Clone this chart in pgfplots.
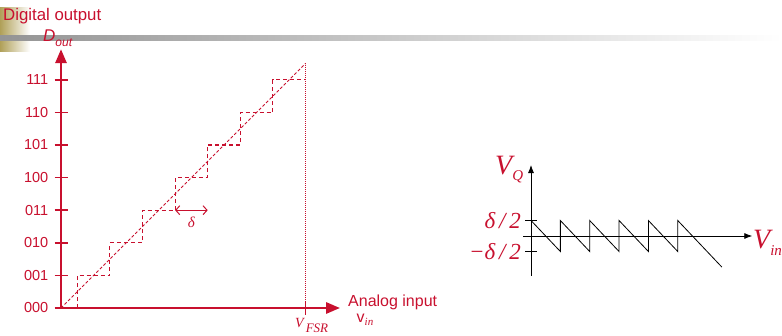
\documentclass[border=0pt]{standalone}
\usepackage{pgfplots}
\pgfplotsset{compat=1.18}
\usepackage{fontspec}
\setmainfont{Liberation Serif}
\setsansfont{Liberation Sans}
\newfontfamily\arial{Liberation Sans}
\newfontfamily\tnr{Liberation Serif}
\usetikzlibrary{arrows.meta}
\definecolor{crim}{RGB}{200,16,46}
\definecolor{olive}{RGB}{176,160,88}

\begin{document}
\begin{tikzpicture}[x=1pt,y=1pt]
\useasboundingbox (0,0) rectangle (782,335);

% slide header decoration
\shade[left color=olive, right color=white] (0,283) rectangle (30,327);
\shade[left color=black!42, right color=white] (0,294) rectangle (782,299);
\node[anchor=base west, inner sep=0pt, text=crim, font=\arial\fontsize{16.8}{18}\selectfont] at (3,314) {Digital output};
\node[anchor=base west, inner sep=0pt, text=crim] at (43,293)
  {{\arial\itshape\fontsize{17}{19}\selectfont D}\raisebox{-5pt}{\arial\itshape\fontsize{12}{13}\selectfont out}};

% ---------- transfer characteristic of a 3-bit quantizer ----------
\begin{axis}[
  at={(61pt,27pt)}, anchor=origin,
  x=32.6pt, y=32.6pt,
  xmin=0, xmax=8.56, ymin=0, ymax=7.94,
  axis lines=left,
  every outer x axis line/.append style={draw=crim, line width=2.8pt, -{Triangle[length=14pt,width=11pt]}},
  every outer y axis line/.append style={draw=crim, line width=2.8pt, -{Triangle[length=14pt,width=11pt]}},
  clip=false,
  xtick={7.5}, xticklabels={},
  ytick={0,1,2,3,4,5,6,7},
  yticklabels={\mbox{000},\mbox{001},\mbox{010},\mbox{011},\mbox{100},\mbox{101},\mbox{110},\mbox{111}},
  tick style={crim, line width=1.5pt},
  major tick length=13pt,
  tick align=center,
  yticklabel style={text=crim, font=\arial\fontsize{14.5}{16}\selectfont, anchor=east, inner sep=0pt, xshift=-6pt},
]
% quantizer staircase
\addplot[crim, line width=1.1pt, dash pattern=on 4pt off 3pt] coordinates {
  (0.5,0) (0.5,1) (1.5,1) (1.5,2) (2.5,2) (2.5,3) (3.5,3) (3.5,4)
  (4.5,4) (4.5,5) (5.5,5) (5.5,6) (6.5,6) (6.5,7) (7.5,7)};
% ideal straight line
\addplot[crim, line width=0.9pt, dash pattern=on 3pt off 2pt] coordinates {(0,0) (7.5,7.5)};
% full-scale marker
\addplot[crim, line width=0.6pt, dash pattern=on 1pt off 1pt] coordinates {(7.5,0) (7.5,7.5)};
% step width
\addplot[crim, line width=1pt, {Straight Barb[length=4pt,width=9pt]}-{Straight Barb[length=4pt,width=9pt]}] coordinates {(3.5,3) (4.5,3)};
\node[text=crim, font=\tnr\itshape\fontsize{15}{16}\selectfont] at (axis cs:4,2.62) {δ};
\end{axis}

\node[anchor=base west, inner sep=0pt, text=crim, font=\arial\fontsize{16}{18}\selectfont] at (348,29) {Analog input};
\node[anchor=base, inner sep=0pt, text=crim] at (365,13)
  {{\arial\fontsize{16}{18}\selectfont v}\raisebox{-3pt}{\tnr\itshape\fontsize{11}{12}\selectfont in}};
\node[anchor=base west, inner sep=0pt, text=crim] at (295,8)
  {{\tnr\itshape\fontsize{14}{15}\selectfont V}\hspace{2pt}\raisebox{-5pt}{\tnr\itshape\fontsize{13}{14}\selectfont FSR}};

% ---------- quantization error ----------
\begin{axis}[
  at={(531pt,99pt)}, anchor=origin,
  x=29.35pt, y=31pt,
  xmin=-0.27, xmax=7.54, ymin=-1.29, ymax=2.29,
  axis lines=middle,
  axis line style={black, line width=0.8pt, -{Latex[length=8pt,width=6pt]}},
  clip=false,
  xtick=\empty,
  ytick={-0.5,0.5},
  yticklabels={\mbox{−δ\,/\,2},\mbox{δ\,/\,2}},
  tick style={black, line width=0.8pt},
  major tick length=12pt,
  tick align=center,
  yticklabel style={text=crim, font=\tnr\itshape\fontsize{23}{24}\selectfont, anchor=east, inner sep=0pt, xshift=-4pt},
]
\addplot[black, line width=0.8pt] coordinates {
  (0,0.5) (1,-0.5) (1,0.5) (2,-0.5) (2,0.5) (3,-0.5) (3,0.5)
  (4,-0.5) (4,0.5) (5,-0.5) (5,0.5) (6.5,-1)};
\end{axis}

\node[anchor=base west, inner sep=0pt, text=crim] at (495,160)
  {{\tnr\itshape\fontsize{28}{29}\selectfont V}\raisebox{-6pt}{\tnr\itshape\fontsize{15}{15}\selectfont Q}};
\node[anchor=base west, inner sep=0pt, text=crim] at (753,86)
  {{\tnr\itshape\fontsize{28}{30}\selectfont V}\raisebox{-6pt}{\tnr\itshape\fontsize{15}{16}\selectfont in}};
\end{tikzpicture}
\end{document}
